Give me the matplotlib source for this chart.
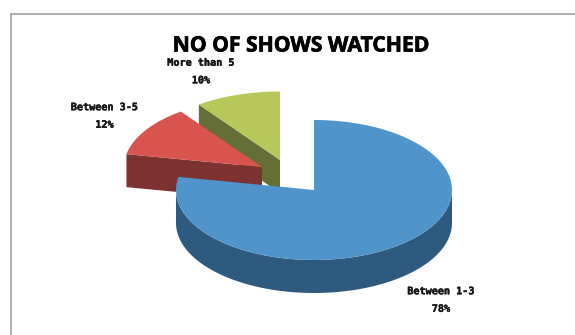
import numpy as np
import matplotlib
matplotlib.use("Agg")
import matplotlib.pyplot as plt
import matplotlib.patheffects as pe
from matplotlib.patches import Polygon

categories = ["Between 1-3", "Between 3-5", "More than 5"]
shares = [78, 12, 10]
top_colors = ["#4f95cc", "#d9534f", "#b7c75a"]
side_colors = ["#2f5a80", "#7d3232", "#646f38"]

W, H = 575, 335
RX, DEPTH = 138, 33
# Exploded slice centres and vertical radii, in figure pixels
centres = [(314, 190), (262, 167), (280, 160)]
radii_y = [70, 68.5, 68.5]
label_pos = [(441, 300), (104.5, 116), (201, 71.5)]

fig = plt.figure(figsize=(W / 100, H / 100), dpi=100)
ax = fig.add_axes([0, 0, 1, 1])
ax.set_xlim(0, W)
ax.set_ylim(H, 0)
ax.axis("off")

# Chart frame: only the left and top sides fall inside the canvas
ax.plot([10.5, 10.5, W], [H, 13.5, 13.5], color="#a0a0a0", lw=1.2,
        solid_joinstyle="miter")


def rim(cx, cy, ry, a0, a1, n=120):
    """Ellipse points for clockwise angles measured from twelve o'clock."""
    t = np.radians(np.linspace(a0, a1, n))
    return np.column_stack([cx + RX * np.sin(t), cy - ry * np.cos(t)])


edges = np.concatenate([[0], np.cumsum(shares)]) * 3.6
down = np.array([0, DEPTH])

# Back slices first, so the large slice overlaps them
for i, z in zip([2, 1, 0], [2, 4, 6]):
    cx, cy = centres[i]
    ry = radii_y[i]
    a0, a1 = edges[i], edges[i + 1]
    apex = np.array([cx, cy])
    if i == 0:
        # outer wall along the near half of the ellipse
        lo = rim(cx, cy, ry, 90, 270, 160)
        ax.add_patch(Polygon(np.vstack([lo, (lo + down)[::-1]]),
                             fc=side_colors[i], ec="none", zorder=z))
    else:
        # cut face along the slice's first radius
        start = rim(cx, cy, ry, a0, a0, 1)[0]
        ax.add_patch(Polygon([start, apex, apex + down, start + down],
                             fc=side_colors[i], ec="none", zorder=z))
    ax.add_patch(Polygon(np.vstack([[apex], rim(cx, cy, ry, a0, a1)]),
                         fc=top_colors[i], ec="none", zorder=z + 1))

ax.text(301, 46, "NO OF SHOWS WATCHED", ha="center", va="center",
        fontsize=15.2, fontweight="bold", family="Open Sans", color="black",
        path_effects=[pe.withStroke(linewidth=0.5, foreground="black")])

for name, share, (x, y) in zip(categories, shares, label_pos):
    ax.text(x, y, f"{name}\n{share}%", ha="center", va="center", fontsize=7.3,
            fontweight="bold", family="DejaVu Sans Mono", linespacing=1.95,
            color="#151515", zorder=10,
            path_effects=[pe.withStroke(linewidth=0.3, foreground="#151515")])

fig.savefig("out.png", dpi=100, facecolor="white")
